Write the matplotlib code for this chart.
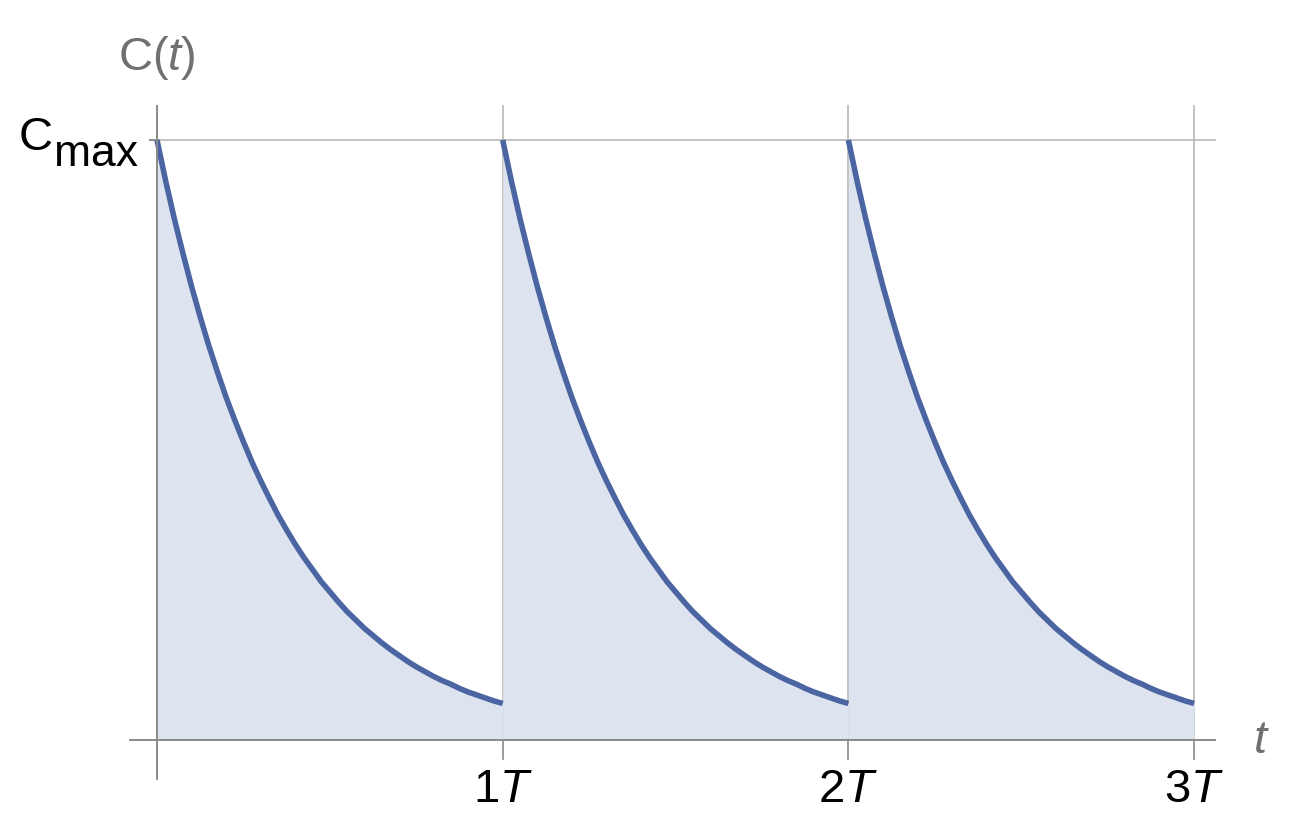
"""Periodic dosing: concentration C(t) decaying between doses at 1T, 2T, 3T."""

import matplotlib
matplotlib.use("Agg")
import matplotlib.pyplot as plt
import numpy as np

# one dosing period, time as a fraction of T, concentration as a fraction of Cmax
PERIOD_T = [0.000, 0.025, 0.050, 0.075, 0.100, 0.125, 0.150, 0.175, 0.200, 0.225,
            0.250, 0.275, 0.300, 0.325, 0.350, 0.375, 0.400, 0.425, 0.450, 0.475,
            0.500, 0.525, 0.550, 0.575, 0.600, 0.625, 0.650, 0.675, 0.700, 0.725,
            0.750, 0.775, 0.800, 0.825, 0.850, 0.875, 0.900, 0.925, 0.950, 0.975,
            1.000]
PERIOD_C = [1.000, 0.932, 0.869, 0.811, 0.756, 0.705, 0.657, 0.613, 0.571, 0.533,
            0.497, 0.463, 0.432, 0.403, 0.375, 0.350, 0.326, 0.304, 0.284, 0.264,
            0.247, 0.230, 0.214, 0.200, 0.186, 0.174, 0.162, 0.151, 0.141, 0.131,
            0.122, 0.114, 0.106, 0.099, 0.093, 0.086, 0.080, 0.075, 0.070, 0.065,
            0.061]
DOSE_STARTS = [0, 1, 2]
TICKS_X = [1, 2, 3]
TICK_LABELS = ["1$T$", "2$T$", "3$T$"]

LINE = "#4a65a1"
FILL = "#dde4ef"
GRID = "#bdbdbd"
AXIS = "#8a8a8a"

plt.rcParams["font.family"] = ["Liberation Sans", "DejaVu Sans"]
plt.rcParams["mathtext.fontset"] = "custom"
plt.rcParams["mathtext.rm"] = "Liberation Sans"
plt.rcParams["mathtext.it"] = "Liberation Sans:italic"

fig = plt.figure(figsize=(12.98, 8.28), dpi=100)
ax = fig.add_axes([0, 0, 1, 1])
ax.set_xlim(-0.4542, 3.3006)
ax.set_ylim(-0.145, 1.235)
ax.axis("off")

# grid
ax.plot([0, 3.06], [1, 1], color=GRID, lw=1.3, zorder=1)
for x in TICKS_X:
    ax.plot([x, x], [0, 1.057], color=GRID, lw=1.3, zorder=1)
    ax.plot([x, x], [-0.032, 0], color=AXIS, lw=1.2, zorder=4)

# curves
t = np.array(PERIOD_T)
c = np.array(PERIOD_C)
for s in DOSE_STARTS:
    ax.fill_between(t + s, 0, c, color=FILL, lw=0, zorder=2)
    ax.plot(t + s, c, color=LINE, lw=4.0, solid_capstyle="butt",
            solid_joinstyle="round", zorder=3)

# axes
ax.plot([-0.078, 3.06], [0, 0], color=AXIS, lw=1.4, zorder=4)
ax.plot([0, 0], [-0.065, 1.057], color=AXIS, lw=1.4, zorder=4)
ax.plot([-0.02, 0], [1, 1], color=AXIS, lw=1.4, zorder=4)

# labels
for x, lab in zip(TICKS_X, TICK_LABELS):
    ax.text(x, -0.102, lab, ha="center", va="baseline", fontsize=34, color="black")
ax.text(-0.400, 0.985, "C", ha="left", va="baseline", fontsize=34, color="black")
ax.text(-0.298, 0.958, "max", ha="left", va="baseline", fontsize=32, color="black")
ax.text(0, 1.118, "C($t$)", ha="center", va="baseline", fontsize=34, color="#707070")
ax.text(3.196, 0, "$t$", ha="center", va="center", fontsize=34, color="#707070")

fig.savefig("out.png", dpi=100)
